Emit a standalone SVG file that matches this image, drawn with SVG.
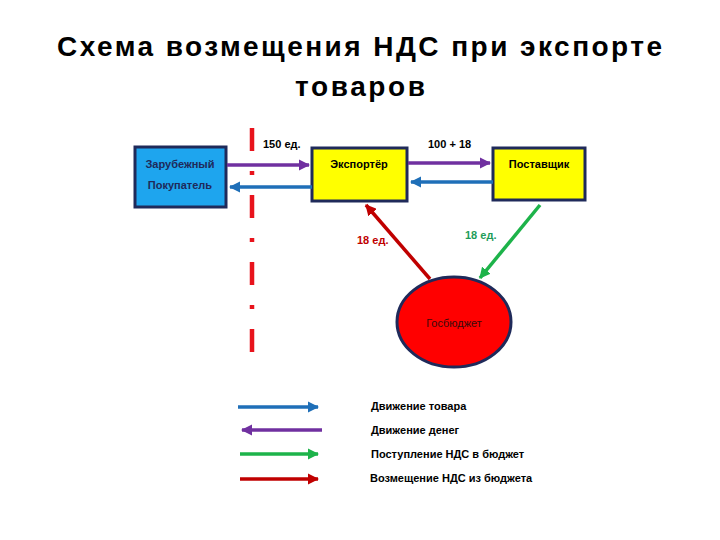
<svg xmlns="http://www.w3.org/2000/svg" width="720" height="540" viewBox="0 0 720 540">
<style>
.title{font-family:"Liberation Sans",Arial,sans-serif;font-weight:bold;font-size:28px;fill:#000}
.lbl{font-family:"Liberation Sans",Arial,sans-serif;font-weight:bold;font-size:11px;fill:#000}
.leg{font-family:"Liberation Sans",Arial,sans-serif;font-weight:bold;font-size:11px;fill:#000}
.box{stroke:#1f2a5a;stroke-width:3}
.ln{fill:none;stroke-width:3.5}
</style>
<defs>
<marker id="mBlue" viewBox="0 0 10 10" refX="9" refY="5" markerWidth="3.2" markerHeight="3.2" orient="auto"><path d="M0,0 L10,5 L0,10 z" fill="#1f6fb8"/></marker>
<marker id="mPurple" viewBox="0 0 10 10" refX="9" refY="5" markerWidth="3.2" markerHeight="3.2" orient="auto"><path d="M0,0 L10,5 L0,10 z" fill="#7030a0"/></marker>
<marker id="mGreen" viewBox="0 0 10 10" refX="9" refY="5" markerWidth="3.2" markerHeight="3.2" orient="auto"><path d="M0,0 L10,5 L0,10 z" fill="#1db34a"/></marker>
<marker id="mRed" viewBox="0 0 10 10" refX="9" refY="5" markerWidth="3.2" markerHeight="3.2" orient="auto"><path d="M0,0 L10,5 L0,10 z" fill="#c00000"/></marker>
</defs>
<rect width="720" height="540" fill="#fff"/>
<text class="title" x="57" y="56" textLength="605" lengthAdjust="spacing">Схема возмещения НДС при экспорте</text>
<text class="title" x="295" y="96" textLength="130" lengthAdjust="spacing">товаров</text>

<g id="border">
<line x1="252" y1="128" x2="252" y2="352" stroke="#e8131c" stroke-width="4.5" stroke-dasharray="23 20 4 20"/>
</g>

<g id="buyer">
<rect class="box" x="135" y="147" width="91" height="60" fill="#1ea5ee"/>
<text class="lbl" x="180" y="168" text-anchor="middle" style="fill:#1f2a5a">Зарубежный</text>
<text class="lbl" x="180" y="189" text-anchor="middle" style="fill:#1f2a5a">Покупатель</text>
</g>
<g id="exporter">
<rect class="box" x="312" y="148" width="95" height="53" fill="#ffff00"/>
<text class="lbl" x="359" y="168" text-anchor="middle">Экспортёр</text>
</g>
<g id="supplier">
<rect class="box" x="493" y="148" width="92" height="52" fill="#ffff00"/>
<text class="lbl" x="539" y="168" text-anchor="middle">Поставщик</text>
</g>
<g id="budget">
<ellipse cx="454" cy="322" rx="57" ry="45" fill="#ff0000" stroke="#1f2a5a" stroke-width="3"/>
<text class="lbl" x="454" y="327" text-anchor="middle" style="font-weight:normal;fill:#3a0a0a">Госбюджет</text>
</g>

<g id="connectors">
<line class="ln" x1="227" y1="165" x2="309" y2="165" stroke="#7030a0" marker-end="url(#mPurple)"/>
<line class="ln" x1="312" y1="187" x2="230" y2="187" stroke="#1f6fb8" marker-end="url(#mBlue)"/>
<line class="ln" x1="408" y1="163" x2="490" y2="163" stroke="#7030a0" marker-end="url(#mPurple)"/>
<line class="ln" x1="493" y1="182" x2="411" y2="182" stroke="#1f6fb8" marker-end="url(#mBlue)"/>
<line class="ln" x1="430" y1="279" x2="366" y2="205" stroke="#c00000" marker-end="url(#mRed)"/>
<line class="ln" x1="540" y1="205" x2="480" y2="278" stroke="#1db34a" marker-end="url(#mGreen)"/>
<text class="lbl" x="263" y="148">150 ед.</text>
<text class="lbl" x="428" y="148">100 + 18</text>
<text class="lbl" x="357" y="244" style="fill:#c00000">18 ед.</text>
<text class="lbl" x="465" y="239" style="fill:#1e9c5a">18 ед.</text>
</g>

<g id="legend">
<line class="ln" x1="238" y1="407" x2="318" y2="407" stroke="#1f6fb8" marker-end="url(#mBlue)"/>
<line class="ln" x1="322" y1="430" x2="242" y2="430" stroke="#7030a0" marker-end="url(#mPurple)"/>
<line class="ln" x1="240" y1="454" x2="318" y2="454" stroke="#1db34a" marker-end="url(#mGreen)"/>
<line class="ln" x1="240" y1="479" x2="318" y2="479" stroke="#c00000" marker-end="url(#mRed)"/>
<text class="leg" x="371" y="410">Движение товара</text>
<text class="leg" x="371" y="434">Движение  денег</text>
<text class="leg" x="371" y="458">Поступление НДС  в бюджет</text>
<text class="leg" x="370" y="482">Возмещение НДС из бюджета</text>
</g>
</svg>
